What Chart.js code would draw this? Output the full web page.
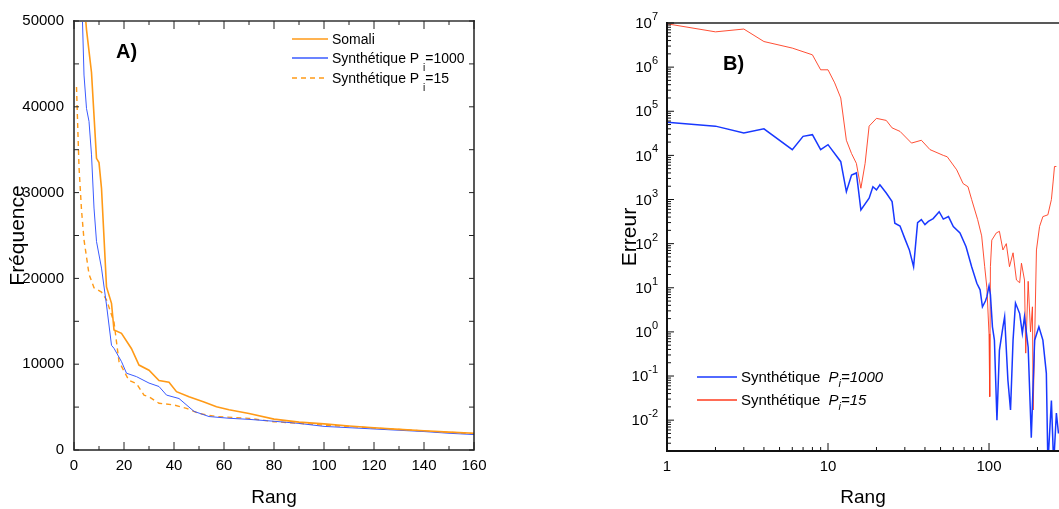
<!DOCTYPE html>
<html lang="fr">
<head>
<meta charset="utf-8">
<script src="https://cdn.jsdelivr.net/npm/chart.js@4.4.1/dist/chart.umd.min.js"></script>
<style>
  html, body { margin: 0; padding: 0; background: #fff; }
  #page { position: relative; width: 1059px; height: 509px; overflow: hidden; }
  #chartA { position: absolute; left: 0; top: 0; }
  #chartB { position: absolute; left: 600px; top: 0; }
</style>
</head>
<body>
<div id="page">
  <canvas id="chartA" width="600" height="509"></canvas>
  <canvas id="chartB" width="459" height="509"></canvas>
</div>
<script>
// ---- Panneau A : fréquence en fonction du rang ----
const rangSomali = [4, 5, 7, 9, 10, 11, 13, 15, 16, 19, 23, 26, 30, 34, 38, 41, 46, 52, 57, 62, 70, 80, 90, 100, 110, 120, 130, 140, 150, 160];
const freqSomali = [52500, 49000, 44000, 34000, 33500, 30500, 19000, 17100, 14000, 13600, 11800, 9900, 9300, 8100, 7900, 6800, 6200, 5600, 5050, 4700, 4250, 3600, 3250, 3050, 2800, 2600, 2400, 2250, 2080, 1950];

const rangP1000 = [3, 4, 5, 6, 7, 8, 9, 11, 13, 15, 16, 19, 21, 25, 30, 34, 37, 42, 48, 54, 62, 70, 80, 90, 100, 110, 120, 130, 140, 150, 160];
const freqP1000 = [54000, 43700, 39800, 38300, 34400, 28200, 24300, 21200, 16900, 12200, 11850, 10300, 8950, 8550, 7800, 7400, 6400, 6000, 4500, 3900, 3700, 3570, 3350, 3100, 2750, 2600, 2450, 2300, 2150, 1950, 1800];

const rangP15 = [1, 2, 3, 4, 6, 8, 11, 13, 16, 18, 22, 25, 28, 30, 34, 40, 45, 50, 57, 70, 80, 90, 100, 110, 120, 130, 140, 150, 160];
const freqP15 = [42300, 33000, 28000, 24500, 20500, 18900, 18400, 17500, 14900, 10300, 8100, 7750, 6400, 6200, 5450, 5250, 4850, 4250, 3900, 3690, 3300, 3100, 2900, 2750, 2550, 2400, 2200, 2050, 1900];

const ticksRangA = [0, 20, 40, 60, 80, 100, 120, 140, 160];
const ticksFreqA = [0, 10000, 20000, 30000, 40000, 50000];

// ---- Panneau B : erreur en fonction du rang (log-log) ----
const rangErr1000 = [1, 2, 3, 4, 6, 7, 8, 9, 10, 12, 13, 14, 15, 16, 18, 19, 20, 21, 23, 25, 26, 28, 30, 32, 34, 36, 38, 40, 42, 45, 49, 52, 56, 60, 66, 72, 78, 84, 88, 91, 95, 97, 100, 102, 105, 108, 112, 116, 122, 125, 131, 136, 141, 146, 155, 161, 166, 175, 183, 192, 204, 216, 227, 232, 244, 252, 262, 270];
const err1000 = [5.6e4, 4.6e4, 3.2e4, 4.0e4, 1.35e4, 2.7e4, 2.95e4, 1.35e4, 1.75e4, 7.2e3, 1.5e3, 3.6e3, 4.0e3, 5.8e2, 1.07e3, 1.95e3, 1.65e3, 2.15e3, 1.4e3, 9.0e2, 2.9e2, 2.5e2, 1.3e2, 72, 30, 300, 350, 270, 320, 370, 530, 360, 410, 245, 175, 85, 30, 12.6, 9, 3.7, 5, 6.3, 11, 7, 1.3, 0.65, 0.01, 0.38, 1.3, 2.2, 0.08, 0.017, 0.65, 4.5, 2.6, 0.93, 2.2, 0.45, 0.004, 0.65, 1.3, 0.65, 0.115, 0.001, 0.028, 0.001, 0.0145, 0.005];

const rangErr15 = [1, 2, 3, 4, 6, 8, 9, 10, 11, 12, 13, 14, 15, 16, 17, 18, 20, 23, 25, 28, 33, 38, 43, 52, 55, 63, 69, 74, 78, 85, 90, 94, 97, 100, 101, 102, 104, 111, 116, 122, 128, 134, 141, 148, 155, 159, 166, 169, 175, 181, 186, 188, 192, 197, 206, 216, 232, 244, 250, 255, 262];
const err15 = [9.6e6, 6.3e6, 7.3e6, 3.8e6, 2.7e6, 1.9e6, 8.7e5, 8.7e5, 4.4e5, 2.0e5, 2.2e4, 1.1e4, 6.6e3, 1.8e3, 6.6e3, 4.6e4, 6.9e4, 6.2e4, 4.2e4, 3.5e4, 1.9e4, 2.2e4, 1.35e4, 1.0e4, 9.3e3, 4.7e3, 2.3e3, 1.95e3, 1.0e3, 350, 150, 30, 10, 0.9, 0.034, 30, 120, 175, 190, 72, 100, 30, 62, 15, 13, 36, 15, 0.33, 14, 1, 3.7, 0.017, 0.65, 72, 245, 410, 450, 1000, 2500, 5600, 5600];

const ticksRangB = [1, 10, 100];
const decadesErrB = [-2, -1, 0, 1, 2, 3, 4, 5, 6, 7];

// ---- Styles ----
const ORANGE = '#ff9a17';
const BLEU_A = '#3a5bff';
const BLEU_B = '#1838ff';
const ROUGE = '#ff3b1e';

// is the narrow Liberation face installed? fall back to a smaller regular face if not
function policeDispo(nom) {
    const c = document.createElement('canvas').getContext('2d');
    c.font = '40px monospace';
    const a = c.measureText('Rang 50000').width;
    c.font = `40px "${nom}", monospace`;
    const b = c.measureText('Rang 50000').width;
    return Math.abs(a - b) > 0.5;
}
const ETROITE = policeDispo('Liberation Sans Narrow');
const FONT_TICK = ETROITE ? { family: 'Liberation Sans Narrow', size: 18 } : { family: 'Liberation Sans', size: 15 };
const SANS = 'Liberation Sans, Arial, sans-serif';

Chart.defaults.color = '#000';
Chart.defaults.font.family = SANS;

const points = (xs, ys) => xs.map((x, i) => ({ x: x, y: ys[i] }));

// frame + inward tick marks
const cadre = {
    id: 'cadre',
    afterDatasetsDraw(chart, args, o) {
        const { ctx, chartArea: a, scales } = chart;
        ctx.save();
        ctx.lineCap = 'square';
        // top line
        ctx.strokeStyle = o.couleurHaut;
        ctx.lineWidth = o.epaisseurHaut;
        ctx.beginPath();
        ctx.moveTo(a.left, a.top);
        ctx.lineTo(a.right, a.top);
        ctx.stroke();
        ctx.strokeStyle = o.couleur;
        ctx.lineWidth = o.epaisseur;
        ctx.beginPath();
        ctx.moveTo(a.left, a.top);
        ctx.lineTo(a.left, a.bottom);
        ctx.lineTo(a.right, a.bottom);
        if (o.droite) ctx.lineTo(a.right, a.top);
        ctx.stroke();

        ctx.lineWidth = 1;
        ctx.lineCap = 'butt';
        ctx.beginPath();
        const tx = (vals, len) => vals.forEach(v => {
            const p = scales.x.getPixelForValue(v);
            if (p < a.left - 0.5 || p > a.right + 0.5) return;
            ctx.moveTo(p, a.bottom); ctx.lineTo(p, a.bottom - len);
            if (o.miroir) { ctx.moveTo(p, a.top); ctx.lineTo(p, a.top + len); }
        });
        const ty = (vals, len) => vals.forEach(v => {
            const p = scales.y.getPixelForValue(v);
            if (p < a.top - 0.5 || p > a.bottom + 0.5) return;
            ctx.moveTo(a.left, p); ctx.lineTo(a.left + len, p);
            if (o.miroir) { ctx.moveTo(a.right, p); ctx.lineTo(a.right - len, p); }
        });
        tx(o.xMajeur, o.longX[0]);
        tx(o.xMineur, o.longX[1]);
        ty(o.yMajeur, o.longY[0]);
        ty(o.yMineur, o.longY[1]);
        ctx.stroke();
        ctx.restore();
    }
};

// legend with subscripts
const legende = {
    id: 'legende',
    afterDatasetsDraw(chart, args, o) {
        const ctx = chart.ctx;
        ctx.save();
        o.entrees.forEach(e => {
            const ds = chart.data.datasets[e.ds];
            ctx.strokeStyle = ds.borderColor;
            ctx.lineWidth = 1.3;
            ctx.setLineDash(ds.borderDash || []);
            ctx.beginPath();
            ctx.moveTo(o.x0, e.y);
            ctx.lineTo(o.x1, e.y);
            ctx.stroke();
            ctx.setLineDash([]);
            ctx.fillStyle = '#000';
            ctx.textBaseline = 'alphabetic';
            let x = o.xTexte;
            e.morceaux.forEach(m => {
                const taille = m.sub ? o.tailleSub : o.taille;
                ctx.font = (m.italique ? 'italic ' : '') + taille + 'px ' + SANS;
                ctx.fillText(m.t, x, e.y + o.base + (m.sub ? o.decalSub : 0));
                x += ctx.measureText(m.t).width;
            });
        });
        ctx.restore();
    }
};

// panel letter + custom log tick labels
const etiquette = {
    id: 'etiquette',
    afterDraw(chart, args, o) {
        const ctx = chart.ctx;
        ctx.save();
        ctx.fillStyle = '#000';
        ctx.font = 'bold 20px ' + SANS;
        ctx.textBaseline = 'alphabetic';
        ctx.fillText(o.texte, o.x, o.y);
        if (o.puissances) {
            const y = chart.scales.y;
            const xr = chart.chartArea.left - 9;
            o.puissances.forEach(d => {
                const p = y.getPixelForValue(Math.pow(10, d));
                const exp = d < 0 ? '-' + Math.abs(d) : String(d);
                ctx.font = '11px ' + SANS;
                const we = ctx.measureText(exp).width;
                ctx.textBaseline = 'middle';
                ctx.fillText(exp, xr - we, p - 6);
                ctx.font = FONT_TICK.size + 'px ' + FONT_TICK.family;
                ctx.textAlign = 'right';
                ctx.fillText('10', xr - we, p + 1);
                ctx.textAlign = 'left';
            });
        }
        ctx.restore();
    }
};

// ---- Graphique A ----
new Chart(document.getElementById('chartA'), {
    type: 'line',
    data: {
        datasets: [
            { label: 'Somali', data: points(rangSomali, freqSomali), borderColor: ORANGE, borderWidth: 1.6 },
            { label: 'Synthétique Pi=1000', data: points(rangP1000, freqP1000), borderColor: BLEU_A, borderWidth: 1 },
            { label: 'Synthétique Pi=15', data: points(rangP15, freqP15), borderColor: ORANGE, borderWidth: 1.4, borderDash: [5, 4] }
        ]
    },
    options: {
        responsive: false,
        animation: false,
        elements: { point: { radius: 0 }, line: { tension: 0, fill: false } },
        layout: { padding: { left: 0, right: 126, top: 21, bottom: 0 } },
        plugins: {
            legend: { display: false },
            tooltip: { enabled: false },
            cadre: {
                couleur: '#222', epaisseur: 1.5, couleurHaut: '#666', epaisseurHaut: 2, droite: true, miroir: true,
                xMajeur: ticksRangA, xMineur: [10, 30, 50, 70, 90, 110, 130, 150], longX: [8, 4],
                yMajeur: ticksFreqA, yMineur: [5000, 15000, 25000, 35000, 45000], longY: [5, 5]
            },
            legende: {
                x0: 292, x1: 328, xTexte: 332, taille: 14, tailleSub: 10, decalSub: 8, base: 5,
                entrees: [
                    { ds: 0, y: 39, morceaux: [{ t: 'Somali' }] },
                    { ds: 1, y: 58, morceaux: [{ t: 'Synthétique P ' }, { t: 'i', sub: true }, { t: '=1000' }] },
                    { ds: 2, y: 78, morceaux: [{ t: 'Synthétique P ' }, { t: 'i', sub: true }, { t: '=15' }] }
                ]
            },
            etiquette: { texte: 'A)', x: 116, y: 58 }
        },
        scales: {
            x: {
                type: 'linear', min: 0, max: 160,
                grid: { display: false, drawTicks: false },
                border: { display: false },
                afterBuildTicks: s => { s.ticks = ticksRangA.map(v => ({ value: v })); },
                ticks: { font: FONT_TICK, padding: 7, maxRotation: 0, autoSkip: false },
                title: { display: true, text: 'Rang', font: { size: 19 }, padding: { top: 0, bottom: 0 } },
                afterFit: s => { s.height = 59; }
            },
            y: {
                min: 0, max: 50000,
                grid: { display: false, drawTicks: false },
                border: { display: false },
                afterBuildTicks: s => { s.ticks = ticksFreqA.map(v => ({ value: v })); },
                ticks: { font: FONT_TICK, padding: 10, callback: v => String(v) },
                title: { display: true, text: 'Fréquence', font: { size: 21 }, padding: { top: 6, bottom: 0 } },
                afterFit: s => { s.width = 74; }
            }
        }
    },
    plugins: [cadre, legende, etiquette]
});

// ---- Graphique B ----
const mineursB = [];
for (let d = -3; d <= 6; d++) for (let m = 2; m <= 9; m++) mineursB.push(m * Math.pow(10, d));
const mineursXB = [];
for (let d = 0; d <= 2; d++) for (let m = 2; m <= 9; m++) mineursXB.push(m * Math.pow(10, d));

new Chart(document.getElementById('chartB'), {
    type: 'line',
    data: {
        datasets: [
            { label: 'Synthétique Pi=1000', data: points(rangErr1000, err1000), borderColor: BLEU_B, borderWidth: 1.5 },
            { label: 'Synthétique Pi=15', data: points(rangErr15, err15), borderColor: ROUGE, borderWidth: 0.9 }
        ]
    },
    options: {
        responsive: false,
        animation: false,
        elements: { point: { radius: 0 }, line: { tension: 0, fill: false } },
        layout: { padding: { left: 0, right: 0, top: 23, bottom: 0 } },
        plugins: {
            legend: { display: false },
            tooltip: { enabled: false },
            cadre: {
                couleur: '#111', epaisseur: 2, couleurHaut: '#222', epaisseurHaut: 1.5, droite: false, miroir: false,
                xMajeur: ticksRangB, xMineur: mineursXB, longX: [8, 4],
                yMajeur: decadesErrB.map(d => Math.pow(10, d)), yMineur: mineursB, longY: [7, 4]
            },
            legende: {
                x0: 97, x1: 137, xTexte: 141, taille: 15, tailleSub: 11, decalSub: 5, base: 5,
                entrees: [
                    { ds: 0, y: 377, morceaux: [{ t: 'Synthétique  ' }, { t: 'P', italique: true }, { t: 'i', italique: true, sub: true }, { t: '=1000', italique: true }] },
                    { ds: 1, y: 400, morceaux: [{ t: 'Synthétique  ' }, { t: 'P', italique: true }, { t: 'i', italique: true, sub: true }, { t: '=15', italique: true }] }
                ]
            },
            etiquette: { texte: 'B)', x: 123, y: 70, puissances: decadesErrB }
        },
        scales: {
            x: {
                type: 'logarithmic', min: 1, max: 272,
                grid: { display: false, drawTicks: false },
                border: { display: false },
                afterBuildTicks: s => { s.ticks = ticksRangB.map(v => ({ value: v })); },
                ticks: { font: FONT_TICK, padding: 7, maxRotation: 0, autoSkip: false, callback: v => String(v) },
                title: { display: true, text: 'Rang', font: { size: 19 }, padding: { top: 0, bottom: 0 } },
                afterFit: s => { s.height = 58; }
            },
            y: {
                type: 'logarithmic', min: 0.002, max: 1e7,
                grid: { display: false, drawTicks: false },
                border: { display: false },
                afterBuildTicks: s => { s.ticks = decadesErrB.map(d => ({ value: Math.pow(10, d) })); },
                ticks: { display: false },
                title: { display: true, text: 'Erreur', font: { size: 21 }, padding: { top: 18, bottom: 0 } },
                afterFit: s => { s.width = 67; }
            }
        }
    },
    plugins: [cadre, legende, etiquette]
});
</script>
</body>
</html>
